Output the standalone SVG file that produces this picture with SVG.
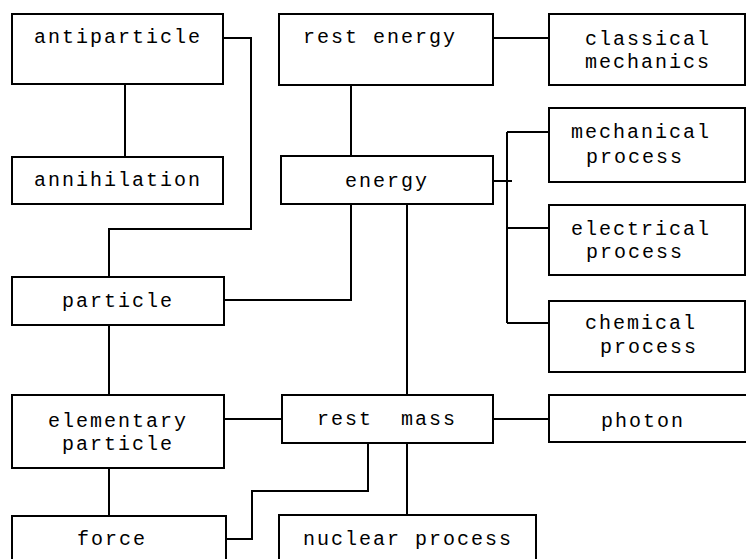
<svg xmlns="http://www.w3.org/2000/svg" width="746" height="559" viewBox="0 0 746 559">
<style>
rect{fill:#fff;stroke:#000;stroke-width:2}
text{font-family:"Liberation Mono","DejaVu Sans Mono",monospace;font-size:20px;letter-spacing:2px;text-anchor:middle;fill:#000}
#connectors path{fill:none;stroke:#000;stroke-width:2}
</style>
<rect x="0" y="0" width="746" height="559" style="stroke:none"/>
<g id="connectors">
<path d="M223 38H251V229H109V277"/>
<path d="M125 84V157"/>
<path d="M351 85V156"/>
<path d="M493 38H549"/>
<path d="M493 181H512"/>
<path d="M507 132V323"/>
<path d="M507 132H549M507 228H549M507 323H549"/>
<path d="M224 300H351V204"/>
<path d="M407 204V395"/>
<path d="M109 325V395"/>
<path d="M224 419H282"/>
<path d="M493 419H549"/>
<path d="M109 468V516"/>
<path d="M226 539H252V491H368V443"/>
<path d="M407 443V515"/>
</g>
<g id="antiparticle"><rect x="12" y="14" width="211" height="70"/><text x="118" y="43">antiparticle</text></g>
<g id="annihilation"><rect x="12" y="157" width="211" height="47"/><text x="118" y="186">annihilation</text></g>
<g id="rest-energy"><rect x="279" y="14" width="214" height="71"/><text x="380" y="43">rest energy</text></g>
<g id="energy"><rect x="281" y="156" width="212" height="48"/><text x="387" y="187">energy</text></g>
<g id="classical-mechanics"><rect x="549" y="14" width="196" height="71"/><text x="648" y="45">classical</text><text x="648" y="68">mechanics</text></g>
<g id="mechanical-process"><rect x="549" y="108" width="196" height="74"/><text x="641" y="138">mechanical</text><text x="635" y="163">process</text></g>
<g id="electrical-process"><rect x="549" y="205" width="196" height="70"/><text x="641" y="235">electrical</text><text x="635" y="258">process</text></g>
<g id="chemical-process"><rect x="549" y="301" width="196" height="71"/><text x="641" y="329">chemical</text><text x="649" y="353">process</text></g>
<g id="particle"><rect x="12" y="277" width="212" height="48"/><text x="118" y="307">particle</text></g>
<g id="elementary-particle"><rect x="12" y="395" width="212" height="73"/><text x="118" y="427">elementary</text><text x="118" y="450">particle</text></g>
<g id="rest-mass"><rect x="282" y="395" width="211" height="48"/><text x="387" y="425" xml:space="preserve">rest  mass</text></g>
<g id="photon"><rect x="549" y="395" width="200" height="47"/><text x="643" y="427">photon</text></g>
<g id="force"><rect x="12" y="516" width="214" height="50"/><text x="112" y="545">force</text></g>
<g id="nuclear-process"><rect x="279" y="515" width="257" height="50"/><text x="408" y="545">nuclear process</text></g>
</svg>
